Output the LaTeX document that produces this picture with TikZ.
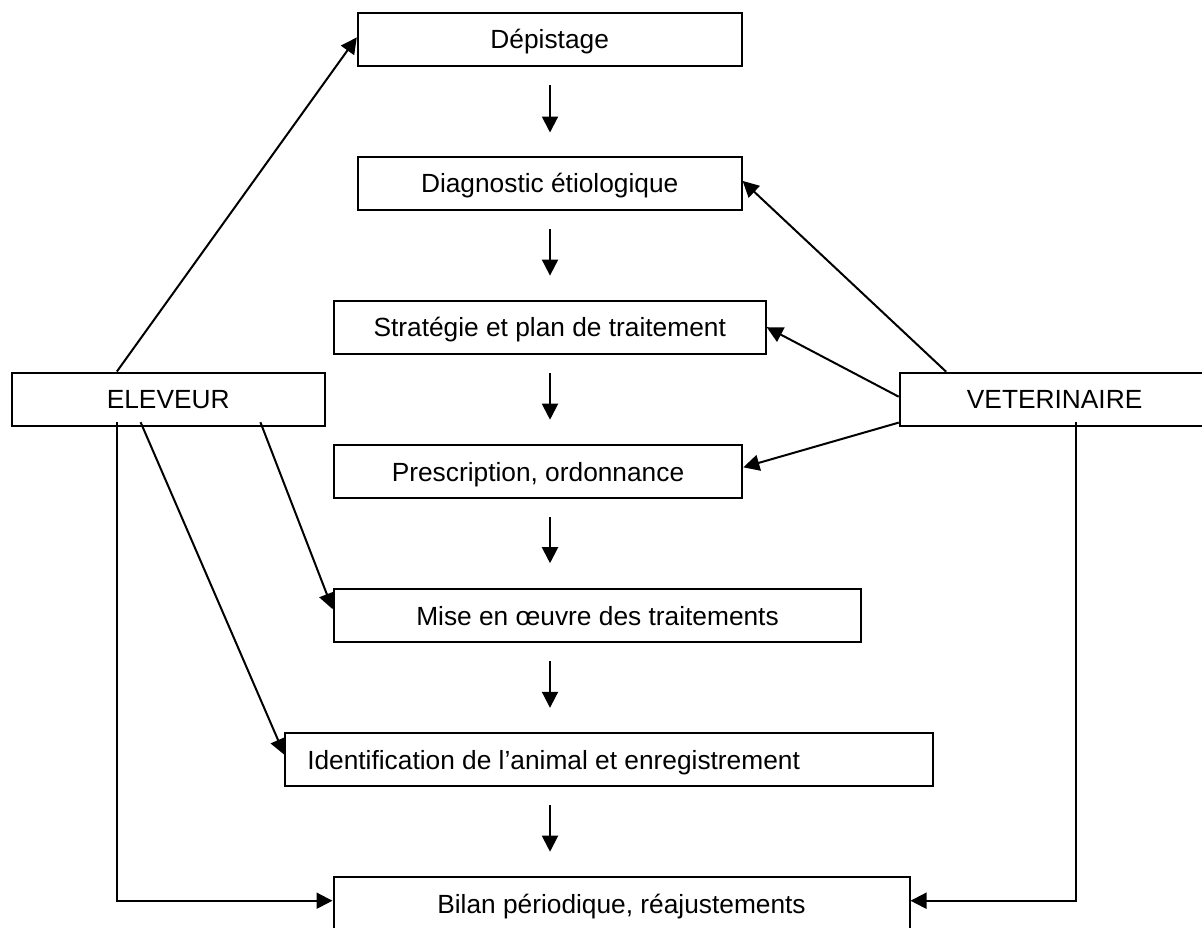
\documentclass[tikz,border=0pt]{standalone}
\usepackage{fontspec}
\setmainfont{Liberation Sans}
\usetikzlibrary{arrows.meta,calc}

\begin{document}
\begin{tikzpicture}[
  x=0.5pt, y=-0.5pt,
  every node/.style={font=\fontsize{13.15}{16}\selectfont},
  box/.style={draw, line width=1pt, rectangle, minimum height=26.6pt,
    inner ysep=0pt, inner xsep=0pt, text height=9.4pt, text depth=0pt},
  arr/.style={line width=1pt, -{Triangle[length=8pt,width=8pt]}}
]
\useasboundingbox (0,0) rectangle (1202,927);
\clip (0,0) rectangle (1202,927);

% main chain of steps
\node[box, minimum width=191.9pt] (dep)   at (549.7,39.4)  {Dépistage};
\node[box, minimum width=191.9pt] (diag)  at (549.7,183.5) {Diagnostic étiologique};
\node[box, minimum width=216pt]   (strat) at (549.7,327.5) {Stratégie et plan de traitement};
\node[box, minimum width=204.35pt](presc) at (538,471.6)   {Prescription, ordonnance};
\node[box, minimum width=263.85pt](mise)  at (597.5,615.8) {Mise en œuvre des traitements};
\node[box, text width=301.95pt, inner xsep=10.9pt, align=flush left]
                                  (ident) at (609.2,759.7) {Identification de l’animal et enregistrement};
\node[box, minimum width=288pt]   (bilan) at (621.5,903.9) {Bilan périodique, réajustements};

% actors
\node[box, minimum width=156.3pt] (elev) at (168.2,399.1)  {ELEVEUR};
\node[box, minimum width=154.9pt] (vet)  at (1054.6,399.3) {VETERINAIRE};

% vertical axis for the step arrows
\coordinate (axis) at (550,0);
\draw[arr] ($(axis |- dep.south)+(0,18)$)   -- ($(axis |- diag.north)+(0,-23.4)$);
\draw[arr] ($(axis |- diag.south)+(0,18)$)  -- ($(axis |- strat.north)+(0,-24.3)$);
\draw[arr] ($(axis |- strat.south)+(0,18)$) -- ($(axis |- presc.north)+(0,-24.3)$);
\draw[arr] ($(axis |- presc.south)+(0,18)$) -- ($(axis |- mise.north)+(0,-25)$);
\draw[arr] ($(axis |- mise.south)+(0,18)$)  -- ($(axis |- ident.north)+(0,-24.3)$);
\draw[arr] ($(axis |- ident.south)+(0,18)$) -- ($(axis |- bilan.north)+(0,-24.6)$);

% breeder's part
\draw[arr] ($(elev.north west)+(106,0)$) -- ($(dep.north west)+(0,25.6)$);
\draw[arr] ($(elev.south west)+(249.5,-4.5)$) -- ($(mise.north west)+(0,21)$);
\draw[arr] ($(elev.south west)+(129.7,-4.5)$) -- ($(ident.north west)+(0,22.7)$);
\draw[arr] ($(elev.south west)+(106,-4.5)$) |- ($(bilan.north west)+(0,24.4)$);

% veterinarian's part
\draw[arr] ($(vet.north west)+(47.4,0)$) -- ($(diag.north east)+(0,25)$);
\draw[arr] ($(vet.west)+(0,-2.6)$) -- ($(strat.north east)+(0,27.3)$);
\draw[arr] ($(vet.south west)+(0,-4.3)$) -- ($(presc.north east)+(0,23.3)$);
\draw[arr] ($(vet.south west)+(176.8,-5)$) |- ($(bilan.north east)+(0,24.4)$);
\end{tikzpicture}
\end{document}
